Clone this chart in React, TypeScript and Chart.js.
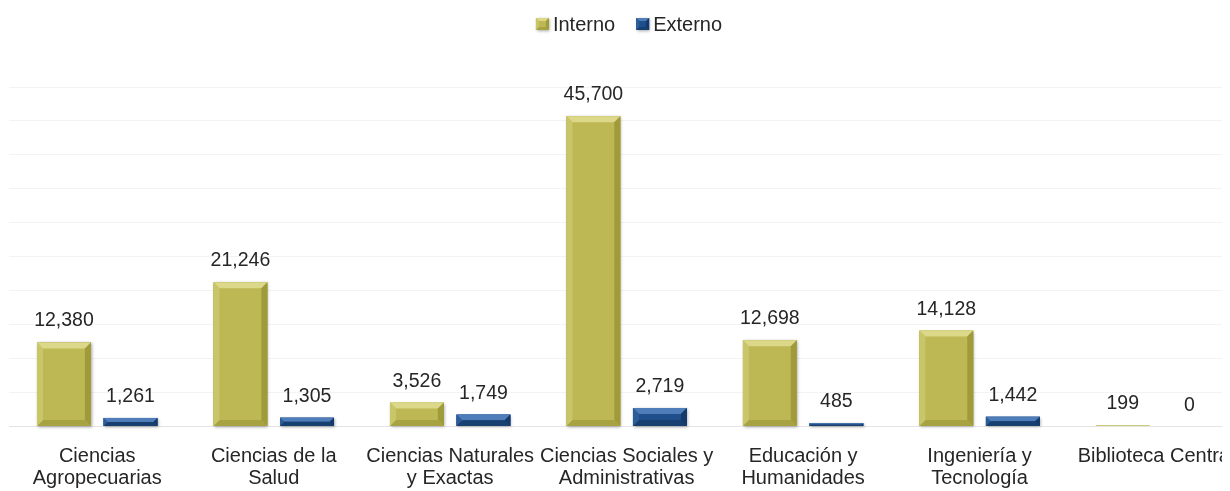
import React, { useEffect, useRef } from 'react';
import { Chart, registerables } from 'chart.js';
Chart.register(...registerables);

const categories: (string | string[])[] = [
  ['Ciencias', 'Agropecuarias'],
  ['Ciencias de la', 'Salud'],
  ['Ciencias Naturales', 'y Exactas'],
  ['Ciencias Sociales y', 'Administrativas'],
  ['Educación y', 'Humanidades'],
  ['Ingeniería y', 'Tecnología'],
  'Biblioteca Central',
];
const interno = [12380, 21246, 3526, 45700, 12698, 14128, 199];
const externo = [1261, 1305, 1749, 2719, 485, 1442, 0];
const seriesNames = ['Interno', 'Externo'];
const yMax = 50000;
const yStep = 5000;

const FONT = "'Liberation Sans', Arial, sans-serif";
const TEXT = '#262626';

const palettes = [
  { main: '#bdb853', top: '#dcd88a', left: '#c9c569', right: '#9f9a3a', bottom: '#a8a342' },
  { main: '#1f4f8b', top: '#4f7db9', left: '#2c5d99', right: '#13386a', bottom: '#173f70' },
];

function poly(ctx: CanvasRenderingContext2D, pts: number[][], color: string) {
  ctx.beginPath();
  ctx.moveTo(pts[0][0], pts[0][1]);
  for (let i = 1; i < pts.length; i++) ctx.lineTo(pts[i][0], pts[i][1]);
  ctx.closePath();
  ctx.fillStyle = color;
  ctx.fill();
}

function bevelRect(ctx: CanvasRenderingContext2D, left: number, top: number, right: number, bottom: number, pal: any, maxD = 6) {
  const w = right - left;
  const h = bottom - top;
  if (w <= 0 || h <= 0) return;
  ctx.save();
  ctx.shadowColor = 'rgba(0,0,0,0.35)';
  ctx.shadowBlur = 3;
  ctx.shadowOffsetX = 1;
  ctx.shadowOffsetY = 1;
  ctx.fillStyle = pal.main;
  ctx.fillRect(left, top, w, h);
  ctx.restore();
  const d = Math.min(maxD, h / 2, w / 2);
  if (d < 1) return;
  poly(ctx, [[left, top], [right, top], [right - d, top + d], [left + d, top + d]], pal.top);
  poly(ctx, [[left, bottom], [right, bottom], [right - d, bottom - d], [left + d, bottom - d]], pal.bottom);
  poly(ctx, [[left, top], [left + d, top + d], [left + d, bottom - d], [left, bottom]], pal.left);
  poly(ctx, [[right, top], [right - d, top + d], [right - d, bottom - d], [right, bottom]], pal.right);
}

const bevelPlugin = {
  id: 'bevelAndLabels',
  afterDatasetsDraw(chart: any) {
    const ctx: CanvasRenderingContext2D = chart.ctx;
    chart.data.datasets.forEach((ds: any, di: number) => {
      const meta = chart.getDatasetMeta(di);
      meta.data.forEach((el: any, i: number) => {
        const p = el.getProps(['x', 'y', 'base', 'width'], true);
        const left = p.x - p.width / 2;
        const right = p.x + p.width / 2;
        const top = Math.min(p.y, p.base);
        const bottom = Math.max(p.y, p.base);
        if (bottom - top >= 2) bevelRect(ctx, left, top, right, bottom, palettes[di]);
        ctx.save();
        ctx.font = `19.5px ${FONT}`;
        ctx.fillStyle = TEXT;
        ctx.textAlign = 'center';
        ctx.textBaseline = 'alphabetic';
        ctx.fillText(Number(ds.data[i]).toLocaleString('en-US'), p.x, top - 16);
        ctx.restore();
      });
    });
  },
  afterDraw(chart: any) {
    const ctx: CanvasRenderingContext2D = chart.ctx;
    ctx.save();
    ctx.font = `20px ${FONT}`;
    const box = 13;
    const gap = 4;
    const itemGap = 21;
    const widths = seriesNames.map((n) => ctx.measureText(n).width);
    const total = widths.reduce((a, b) => a + b, 0) + seriesNames.length * (box + gap) + itemGap * (seriesNames.length - 1);
    let x = chart.width / 2 + 2 - total / 2;
    const boxTop = 10;
    seriesNames.forEach((n, i) => {
      bevelRect(ctx, x, boxTop, x + box, boxTop + 12, palettes[i], 3);
      x += box + gap;
      ctx.fillStyle = TEXT;
      ctx.textAlign = 'left';
      ctx.textBaseline = 'alphabetic';
      ctx.fillText(n, x, 22.5);
      x += widths[i] + itemGap;
    });
    ctx.restore();
  },
};

export default function App() {
  const ref = useRef<HTMLCanvasElement>(null);
  useEffect(() => {
    if (!ref.current) return;
    const chart = new Chart(ref.current, {
      type: 'bar',
      data: {
        labels: categories,
        datasets: [
          { label: seriesNames[0], data: interno, backgroundColor: palettes[0].main, borderWidth: 0 },
          { label: seriesNames[1], data: externo, backgroundColor: palettes[1].main, borderWidth: 0 },
        ],
      },
      options: {
        animation: false,
        responsive: true,
        maintainAspectRatio: false,
        categoryPercentage: 0.754,
        barPercentage: 0.81,
        layout: { padding: { top: 79, left: 1, right: 1, bottom: 0 } },
        plugins: {
          legend: { display: false },
          tooltip: { enabled: false },
        },
        scales: {
          x: {
            grid: { display: false },
            border: { display: false },
            afterFit: (scale: any) => {
              scale.height = 64.5;
            },
            ticks: {
              autoSkip: false,
              maxRotation: 0,
              minRotation: 0,
              padding: 11.5,
              color: TEXT,
              font: { family: FONT, size: 20, lineHeight: 1.08 },
            },
          },
          y: {
            min: 0,
            max: yMax,
            ticks: { display: false, stepSize: yStep },
            border: { display: false },
            grid: {
              drawTicks: false,
              color: (c: any) => (c.tick && c.tick.value === 0 ? '#e4e4e4' : '#f3f3f3'),
              lineWidth: 1,
            },
          },
        },
      },
      plugins: [bevelPlugin],
    });
    return () => chart.destroy();
  }, []);
  return (
    <div style={{ width: 1222, height: 483, overflow: 'hidden' }}>
      <div style={{ position: 'relative', width: 1238, height: 483 }}>
        <canvas ref={ref} />
      </div>
    </div>
  );
}
